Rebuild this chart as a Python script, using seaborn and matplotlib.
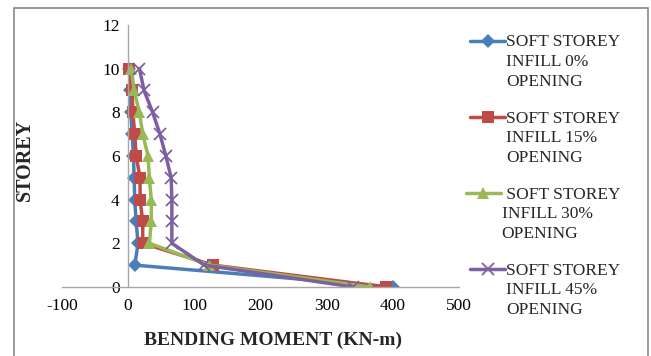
import numpy as np
import pandas as pd
import matplotlib
matplotlib.use("Agg")
import matplotlib.pyplot as plt
import seaborn as sns
from matplotlib.patches import Rectangle

storey = [0, 1, 2, 3, 4, 5, 6, 7, 8, 9, 10]
infill_0 = [400, 10, 15, 12, 10, 9, 8, 6, 4, 3, 2]
infill_15 = [389, 128, 22, 22, 18, 18, 12, 10, 7, 6, 1]
infill_30 = [365, 122, 32, 35, 35, 32, 30, 22, 17, 9, 5]
infill_45 = [340, 115, 66, 66, 66, 65, 57, 48, 37, 24, 17]
labels = ["SOFT STOREY\nINFILL 0%\nOPENING",
          "SOFT STOREY\nINFILL 15%\nOPENING",
          " SOFT STOREY\nINFILL 30%\nOPENING",
          "SOFT STOREY\nINFILL 45%\nOPENING"]

sns.set_style("white")
plt.rcParams['font.family'] = ['Liberation Serif', 'DejaVu Serif']
plt.rcParams['axes.unicode_minus'] = False

rows = []
for lab, vals in zip(labels, [infill_0, infill_15, infill_30, infill_45]):
    for s, v in zip(storey, vals):
        rows.append({"moment": v, "storey": s, "series": lab})
df = pd.DataFrame(rows)

colors = ["#4A7EBB", "#BE4B48", "#98B954", "#7D60A0"]
markers = ["D", "s", "^", "x"]
msizes = [7, 9, 9, 9]

fig = plt.figure(figsize=(6.51, 3.56), dpi=100)
ax = fig.add_axes([0.0952, 0.194, 0.61, 0.736])

for lab, col, mk, ms in zip(labels, colors, markers, msizes):
    sub = df[df.series == lab]
    sns.lineplot(data=sub, x="moment", y="storey", sort=False, estimator=None,
                 color=col, marker=mk, markersize=ms,
                 markeredgewidth=1.3 if mk == "x" else 0,
                 markeredgecolor=col, linewidth=2.5, label=lab, ax=ax)

ax.set_xlim(-100, 500)
ax.set_ylim(0, 12)
ax.set_xticks([-100, 0, 100, 200, 300, 400, 500])
ax.set_yticks([0, 2, 4, 6, 8, 10, 12])
ax.spines['left'].set_position(('data', 0))
ax.spines['bottom'].set_position(('data', 0))
for sp in ['top', 'right']:
    ax.spines[sp].set_visible(False)
for sp in ['left', 'bottom']:
    ax.spines[sp].set_color('#A6A6A6')
    ax.spines[sp].set_linewidth(1)
ax.tick_params(axis='both', length=0, labelsize=12.5, colors='black')
ax.tick_params(axis='x', pad=8)
ax.tick_params(axis='y', pad=6)
ax.set_xlabel("")
ax.set_ylabel("")

fig.text(0.42, 0.045, "BENDING MOMENT (KN-m)", ha='center', va='center',
         fontsize=14, fontweight='bold')
fig.text(0.038, 0.55, "STOREY", ha='center', va='center', rotation=90,
         fontsize=14.5, fontweight='bold')

leg = ax.legend(loc='upper left', bbox_to_anchor=(1.0, 0.99), frameon=False,
                fontsize=12.5, labelspacing=1.2, handlelength=2.0,
                handletextpad=0.05, borderaxespad=0)
for t in leg.get_texts():
    t.set_linespacing(1.3)
    t.set_multialignment('left')
for hp in leg._legend_handle_box.get_children():
    for c in hp.get_children():
        if hasattr(c, 'align'):
            c.align = 'top'
    hp.align = 'top'

fig.patches.append(Rectangle((0.021, -0.05), 0.975, 1.028, transform=fig.transFigure,
                             fill=False, edgecolor='#888888', linewidth=1.2))

fig.savefig("out.png", dpi=100)
